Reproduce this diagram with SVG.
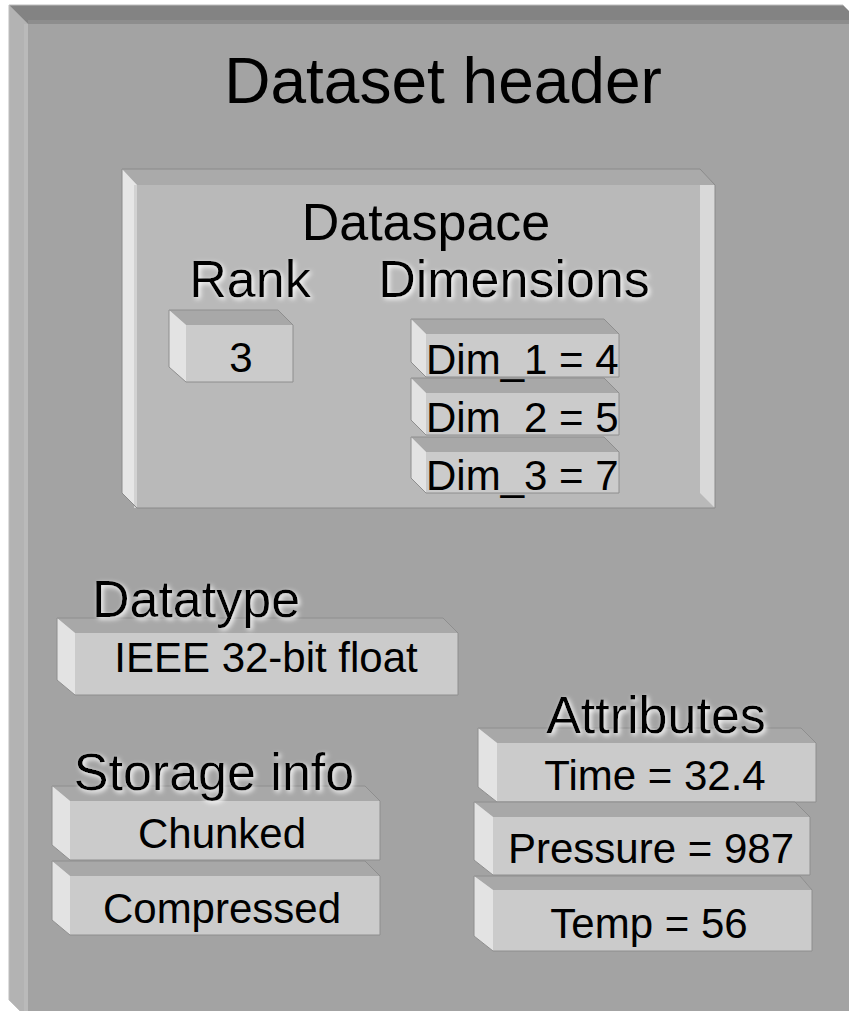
<svg xmlns="http://www.w3.org/2000/svg" width="849" height="1011" viewBox="0 0 849 1011">
  <style>
    text { font-family: "Liberation Sans", Arial, sans-serif; fill: #000; }
    .title { font-size: 64px; text-anchor: middle; }
    .head { font-size: 52px; text-anchor: middle; }
    .glow { filter: url(#glow); }
    .val { font-size: 42px; text-anchor: middle; }
    .valL { font-size: 42px; }
    .top { fill: #a8a8a8; }
    .left { fill: #e3e3e3; }
    .face { fill: #cbcbcb; }
    .edge { fill: none; stroke: #8e8e8e; stroke-width: 1; }
  </style>
  <defs>
    <!-- soft white halo used behind the section headings -->
    <filter id="glow" x="-10%" y="-25%" width="125%" height="160%">
      <feGaussianBlur in="SourceAlpha" stdDeviation="2.4" result="b"/>
      <feOffset in="b" dx="2" dy="2" result="o"/>
      <feFlood flood-color="#ffffff" flood-opacity="1"/>
      <feComposite in2="o" operator="in" result="s"/>
      <feMerge>
        <feMergeNode in="s"/>
        <feMergeNode in="SourceGraphic"/>
      </feMerge>
    </filter>
    <!-- the second dimension cell's label is tucked under the third cell -->
    <clipPath id="dim2-clip">
      <rect x="400" y="380" width="230" height="53"/>
    </clipPath>
  </defs>

  <rect x="0" y="0" width="849" height="1011" fill="#ffffff"/>

  <!-- outer dataset header panel -->
  <g id="dataset-header">
    <polygon points="9,5 843,5 862,24 862,1019 28,1019 9,1000" fill="#a3a3a3"/>
    <polygon points="9,5 843,5 862,24 28,24" fill="#838383"/>
    <rect x="28" y="20" width="834" height="4" fill="#8d8d8d"/>
    <polygon points="9,5 28,24 28,1019 9,1000" fill="#b3b3b3"/>
    <rect x="24" y="24" width="4" height="995" fill="#bababa"/>
    <polyline points="9,1000 9,5 843,5 862,24" fill="none" stroke="#bdbdbd" stroke-width="1"/>
    <text class="title" x="443" y="103">Dataset header</text>
  </g>

  <!-- dataspace frame -->
  <g id="dataspace">
    <polygon points="122,169 700,169 715,185 715,508 137,508 122,493" fill="#b9b9b9"/>
    <polygon points="122,169 700,169 715,185 137,185" fill="#aaaaaa"/>
    <polygon points="122,169 137,185 137,508 122,493" fill="#e6e6e6"/>
    <rect x="134" y="185" width="3" height="323" fill="#d2d2d2"/>
    <polygon points="700,185 715,185 715,508 700,493" fill="#d9d9d9"/>
    <polygon points="122,169 700,169 715,185 715,508 137,508 122,493" fill="none" stroke="#8a8a8a" stroke-width="1"/>
    <text class="title" style="font-size:52px" x="426" y="240">Dataspace</text>
    <text class="head glow" x="250" y="297">Rank</text>
    <text class="head glow" x="514" y="297">Dimensions</text>
  </g>

  <!-- rank value -->
  <g id="rank">
    <polygon class="face" points="169,310 278,310 293,325 293,382 186,382 169,367"/>
    <polygon class="top" points="169,310 278,310 293,325 186,325"/>
    <polygon class="left" points="169,310 186,325 186,382 169,367"/>
    <polygon class="edge" points="169,310 278,310 293,325 293,382 186,382 169,367"/>
    <text class="val" x="241" y="372">3</text>
  </g>

  <!-- dimension sizes -->
  <g id="dimensions">
    <polygon class="face" points="411,319 604,319 619,334 619,377 426,377 411,362"/>
    <polygon class="top" points="411,319 604,319 619,334 426,334"/>
    <polygon class="left" points="411,319 426,334 426,377 411,362"/>
    <polygon class="edge" points="411,319 604,319 619,334 619,377 426,377 411,362"/>

    <polygon class="face" points="411,378 604,378 619,393 619,435 426,435 411,420"/>
    <polygon class="top" points="411,378 604,378 619,393 426,393"/>
    <polygon class="left" points="411,378 426,393 426,435 411,420"/>
    <polygon class="edge" points="411,378 604,378 619,393 619,435 426,435 411,420"/>

    <text class="valL" x="426" y="374">Dim_1 = 4</text>
    <text class="valL" x="426" y="432" clip-path="url(#dim2-clip)">Dim_2 = 5</text>

    <polygon class="face" points="411,437 604,437 619,452 619,493 426,493 411,478"/>
    <polygon class="top" points="411,437 604,437 619,452 426,452"/>
    <polygon class="left" points="411,437 426,452 426,493 411,478"/>
    <polygon class="edge" points="411,437 604,437 619,452 619,493 426,493 411,478"/>
    <text class="valL" x="426" y="490">Dim_3 = 7</text>
  </g>

  <!-- datatype -->
  <g id="datatype">
    <polygon class="face" points="57,618 443,618 458,633 458,695 75,695 57,680"/>
    <polygon class="top" points="57,618 443,618 458,633 75,633"/>
    <polygon class="left" points="57,618 75,633 75,695 57,680"/>
    <polygon class="edge" points="57,618 443,618 458,633 458,695 75,695 57,680"/>
    <text class="head glow" x="196" y="617">Datatype</text>
    <text class="val" x="266" y="672">IEEE 32-bit float</text>
  </g>

  <!-- storage info -->
  <g id="storage-info">
    <polygon class="face" points="52,786 365,786 380,801 380,860 70,860 52,845"/>
    <polygon class="top" points="52,786 365,786 380,801 70,801"/>
    <polygon class="left" points="52,786 70,801 70,860 52,845"/>
    <polygon class="edge" points="52,786 365,786 380,801 380,860 70,860 52,845"/>

    <polygon class="face" points="52,861 365,861 380,876 380,935 70,935 52,920"/>
    <polygon class="top" points="52,861 365,861 380,876 70,876"/>
    <polygon class="left" points="52,861 70,876 70,935 52,920"/>
    <polygon class="edge" points="52,861 365,861 380,876 380,935 70,935 52,920"/>

    <text class="head glow" x="214" y="790">Storage info</text>
    <text class="val" x="222" y="848">Chunked</text>
    <text class="val" x="222" y="923">Compressed</text>
  </g>

  <!-- attributes -->
  <g id="attributes">
    <polygon class="face" points="478,728 801,728 816,743 816,802 497,802 478,787"/>
    <polygon class="top" points="478,728 801,728 816,743 497,743"/>
    <polygon class="left" points="478,728 497,743 497,802 478,787"/>
    <polygon class="edge" points="478,728 801,728 816,743 816,802 497,802 478,787"/>

    <polygon class="face" points="474,802 795,802 810,817 810,875 493,875 474,860"/>
    <polygon class="top" points="474,802 795,802 810,817 493,817"/>
    <polygon class="left" points="474,802 493,817 493,875 474,860"/>
    <polygon class="edge" points="474,802 795,802 810,817 810,875 493,875 474,860"/>

    <polygon class="face" points="474,876 800,876 812,890 812,951 493,951 474,936"/>
    <polygon class="top" points="474,876 800,876 812,890 493,890"/>
    <polygon class="left" points="474,876 493,890 493,951 474,936"/>
    <polygon class="edge" points="474,876 800,876 812,890 812,951 493,951 474,936"/>

    <text class="head glow" x="656" y="733">Attributes</text>
    <text class="val" x="655" y="790">Time = 32.4</text>
    <text class="val" x="651" y="863">Pressure = 987</text>
    <text class="val" x="649" y="938">Temp = 56</text>
  </g>

  <!-- no connectors in this diagram -->
  <g id="connectors"/>
</svg>
